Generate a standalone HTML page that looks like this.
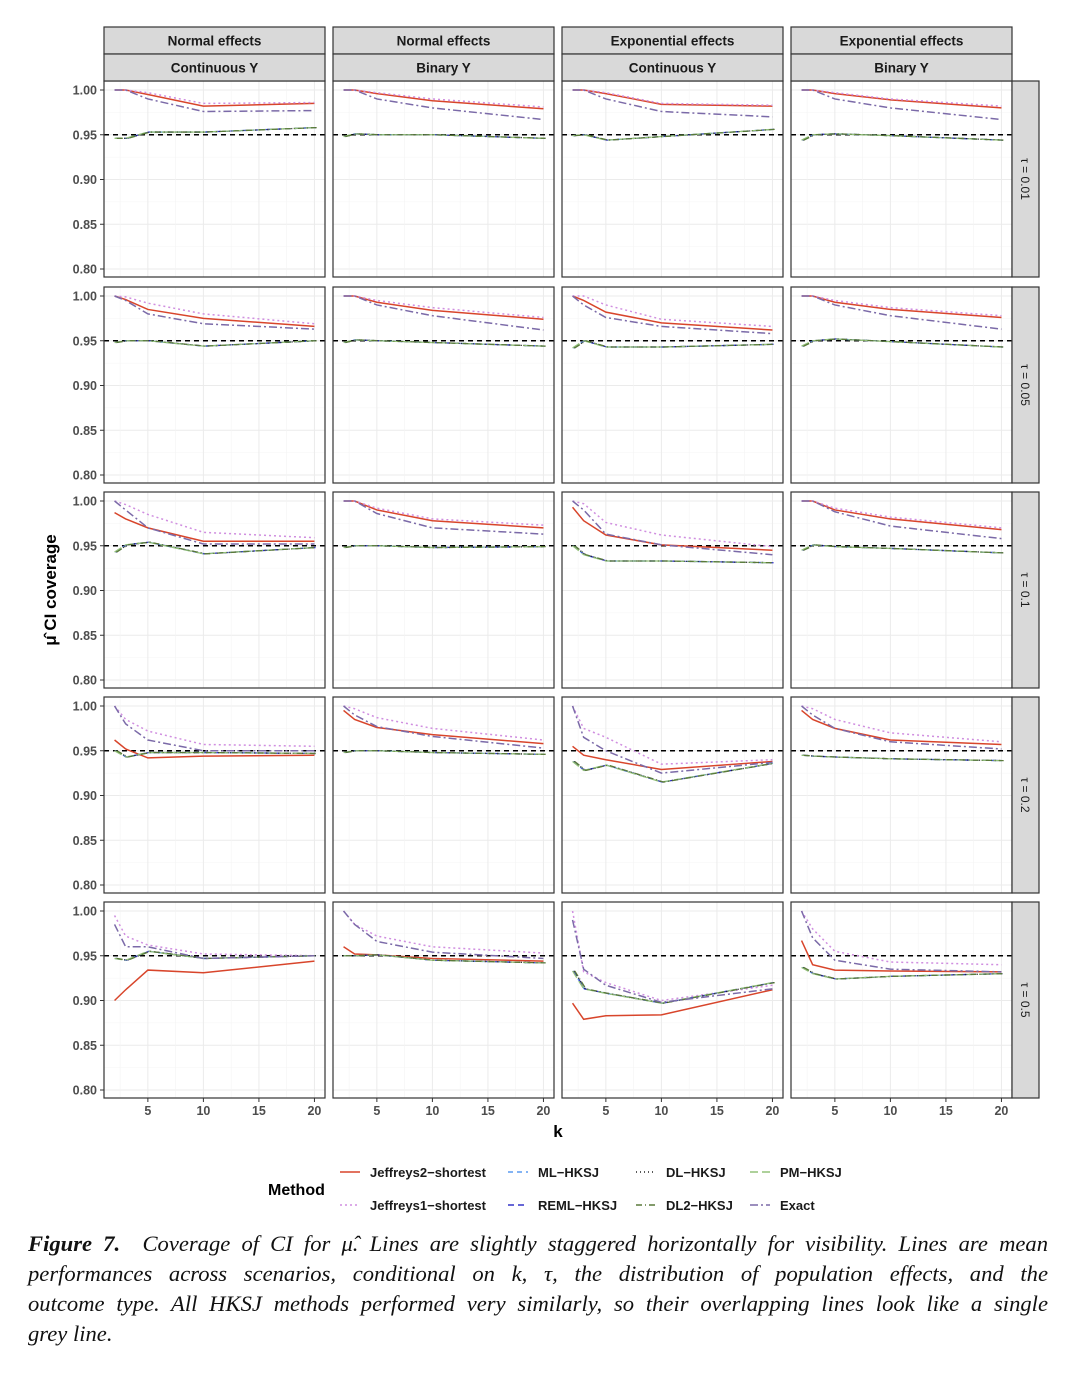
<!DOCTYPE html>
<html><head><meta charset="utf-8"><style>
body{margin:0;background:#fff;width:1080px;height:1389px;overflow:hidden;position:relative;font-family:"Liberation Sans",sans-serif}
#cap{position:absolute;left:28px;top:1229px;width:1020px;font-family:"Liberation Serif",serif;font-style:italic;font-size:22.6px;line-height:30px;color:#111}
#cap .j{text-align:justify;text-align-last:justify;white-space:nowrap}
#cap .l{text-align:left}
</style></head><body>
<svg id="chart" width="1080" height="1225" style="position:absolute;left:0;top:0" xmlns="http://www.w3.org/2000/svg"></svg>
<div id="cap"><div class="j"><b>Figure 7.</b>&nbsp; Coverage of CI for μ̂. Lines are slightly staggered horizontally for visibility. Lines are mean</div><div class="j">performances across scenarios, conditional on <i>k</i>, τ, the distribution of population effects, and the</div><div class="j">outcome type. All HKSJ methods performed very similarly, so their overlapping lines look like a single</div><div class="l">grey line.</div></div>
<script>
const kVals=[2,3,5,10,20];
const colTop1=["Normal effects","Normal effects","Exponential effects","Exponential effects"];
const colTop2=["Continuous Y","Binary Y","Continuous Y","Binary Y"];
const tauLabels=["τ = 0.01","τ = 0.05","τ = 0.1","τ = 0.2","τ = 0.5"];
const yTicks=[0.80,0.85,0.90,0.95,1.00];
const yTickLabels=["0.80","0.85","0.90","0.95","1.00"];
const xTicks=[5,10,15,20];
const jeff2=[
[[1,1,.995,.982,.985],[1,1,.996,.988,.979],[1,1,.996,.984,.982],[1,1,.996,.989,.98]],
[[1,.996,.985,.975,.966],[1,1,.993,.984,.974],[1,.995,.982,.97,.962],[1,1,.993,.985,.976]],
[[.987,.98,.97,.955,.955],[1,1,.99,.978,.97],[.993,.978,.962,.951,.945],[1,1,.99,.98,.968]],
[[.962,.952,.942,.944,.945],[.995,.985,.976,.968,.958],[.955,.945,.94,.929,.938],[.995,.985,.975,.962,.957]],
[[.9,.912,.934,.931,.944],[.96,.952,.951,.947,.944],[.897,.879,.883,.884,.912],[.967,.94,.934,.933,.932]]];
const jeff1=[
[[1,1,.997,.985,.986],[1,1,.997,.99,.981],[1,1,.997,.985,.983],[1,1,.997,.99,.982]],
[[1,.999,.992,.98,.969],[1,1,.995,.987,.976],[1,1,.99,.974,.966],[1,1,.995,.987,.978]],
[[1,.996,.985,.965,.959],[1,1,.992,.98,.973],[1,.997,.976,.962,.949],[1,1,.992,.982,.97]],
[[1,.985,.972,.957,.955],[1,.997,.987,.975,.962],[1,.975,.965,.935,.94],[1,.997,.985,.97,.96]],
[[.995,.972,.962,.952,.95],[1,.985,.972,.96,.953],[1,.932,.92,.9,.917],[1,.98,.955,.943,.94]]];
const exact=[
[[1,1,.99,.976,.977],[1,1,.99,.98,.967],[1,1,.99,.976,.97],[1,1,.99,.98,.967]],
[[1,.995,.98,.969,.963],[1,1,.99,.978,.962],[1,.99,.976,.966,.958],[1,1,.99,.978,.963]],
[[1,.99,.97,.952,.952],[1,1,.986,.97,.963],[1,.99,.963,.951,.94],[1,1,.988,.972,.958]],
[[1,.98,.962,.95,.95],[1,.99,.977,.966,.953],[1,.965,.95,.925,.937],[1,.99,.975,.96,.952]],
[[.985,.96,.96,.947,.95],[1,.985,.966,.954,.947],[.99,.935,.917,.898,.913],[1,.97,.945,.935,.932]]];
const hksj=[
[[.946,.946,.953,.953,.958],[.948,.951,.95,.95,.946],[.949,.95,.944,.948,.956],[.944,.95,.951,.949,.944]],
[[.948,.95,.95,.944,.95],[.948,.951,.95,.948,.944],[.942,.95,.943,.943,.946],[.944,.95,.952,.949,.943]],
[[.943,.951,.954,.941,.948],[.948,.95,.95,.948,.949],[.95,.94,.933,.933,.931],[.945,.951,.949,.947,.942]],
[[.95,.943,.948,.948,.947],[.948,.95,.95,.948,.946],[.938,.928,.934,.915,.936],[.945,.944,.943,.941,.939]],
[[.947,.945,.955,.947,.95],[.95,.95,.951,.945,.942],[.933,.913,.908,.897,.92],[.937,.93,.924,.927,.93]]];

const NS="http://www.w3.org/2000/svg";
const svg=document.getElementById('chart');
function mk(tag,attrs,parent){const e=document.createElementNS(NS,tag);for(const k in attrs)e.setAttribute(k,attrs[k]);(parent||svg).appendChild(e);return e;}
const colX=[104,333,562,791],pw=221,rowY=[81,287,492,697,902],ph=196;
const xDom=[1.05,20.95],yDom=[0.79106,1.01006];
function sx(c,k){return colX[c]+(k-xDom[0])/(xDom[1]-xDom[0])*pw;}
function sy(r,v){return rowY[r]+ph-(v-yDom[0])/(yDom[1]-yDom[0])*ph;}
const series=[
{name:'jeffreys2',data:jeff2,color:'#d8452b',dash:'',w:1.5,off:0},
{name:'jeffreys1',data:jeff1,color:'#d08ee0',dash:'2,3',w:1.5,off:0},
{name:'ml-hksj',data:hksj,color:'#5b9bf0',dash:'5,4',w:1.3,off:0.05},
{name:'reml-hksj',data:hksj,color:'#3535c8',dash:'6,4',w:1.3,off:0.1},
{name:'dl-hksj',data:hksj,color:'#222',dash:'1,3',w:1.3,off:0.15},
{name:'pm-hksj',data:hksj,color:'#94c27a',dash:'8,4',w:1.3,off:0},
{name:'dl2-hksj',data:hksj,color:'#5a7a3a',dash:'6,3,1,3',w:1.3,off:0.2},
{name:'exact',data:exact,color:'#7b6aa8',dash:'8,3,2,3',w:1.5,off:0}];

for(let r=0;r<5;r++){for(let c=0;c<4;c++){
  const g=mk('g',{});
  
  
  mk('rect',{x:colX[c],y:rowY[r],width:pw,height:ph,fill:'#fff'},g);
  for(let v=0.775;v<=1.01;v+=0.025){const y=sy(r,v);if(y<rowY[r]||y>rowY[r]+ph)continue;
    const major=Math.abs((v*100)%5)<0.01||Math.abs((v*100)%5-5)<0.01;
    mk('line',{x1:colX[c],x2:colX[c]+pw,y1:y,y2:y,stroke:major?'#ebebeb':'#f4f4f4','stroke-width':major?1:0.6},g);}
  for(let k=2.5;k<=20;k+=2.5){const x=sx(c,k);const major=k%5===0;
    mk('line',{x1:x,x2:x,y1:rowY[r],y2:rowY[r]+ph,stroke:major?'#ebebeb':'#f4f4f4','stroke-width':major?1:0.6},g);}
  const ref=mk('line',{x1:colX[c],x2:colX[c]+pw,y1:sy(r,0.95),y2:sy(r,0.95),stroke:'#000','stroke-width':1.4,'stroke-dasharray':'5,4'},g);
  
  
  series.forEach(s=>{
    const pts=kVals.map((k,i)=>sx(c,k+s.off)+','+sy(r,s.data[r][c][i])).join(' ');
    const p=mk('polyline',{points:pts,fill:'none',stroke:s.color,'stroke-width':s.w,'stroke-dasharray':s.dash},g);
    
    
  });
  mk('rect',{x:colX[c],y:rowY[r],width:pw,height:ph,fill:'none',stroke:'#333','stroke-width':1.2},g);
}
  const st=mk('rect',{x:1012,y:rowY[r],width:27,height:ph,fill:'#d9d9d9',stroke:'#333','stroke-width':1.2});
  
  
  const t=mk('text',{x:0,y:0,transform:`translate(1021,${rowY[r]+ph/2}) rotate(90)`,'text-anchor':'middle','font-size':12,fill:'#1a1a1a'});
  t.textContent=tauLabels[r];
  
  
  yTicks.forEach((v,i)=>{const y=sy(r,v);
    mk('line',{x1:100,x2:104,y1:y,y2:y,stroke:'#333'});
    const tl=mk('text',{x:97,y:y+4.5,'text-anchor':'end','font-size':12.5,'font-weight':'bold',fill:'#4d4d4d'});
    tl.textContent=yTickLabels[i];
    
    });
}
for(let c=0;c<4;c++){
  [[27,colTop1[c]],[54,colTop2[c]]].forEach(([y,txt])=>{
    const s=mk('rect',{x:colX[c],y:y,width:pw,height:27,fill:'#d9d9d9',stroke:'#333','stroke-width':1.2});
    
    
    const t=mk('text',{x:colX[c]+pw/2,y:y+18.5,'text-anchor':'middle','font-size':13.5,'font-weight':'bold',fill:'#1a1a1a'});
    t.textContent=txt;
    
    });
  xTicks.forEach(k=>{const x=sx(c,k);
    mk('line',{x1:x,x2:x,y1:1098,y2:1102,stroke:'#333'});
    const tl=mk('text',{x:x,y:1115,'text-anchor':'middle','font-size':12.5,'font-weight':'bold',fill:'#4d4d4d'});
    tl.textContent=String(k);
    
    });
}
const xt=mk('text',{x:558,y:1137,'text-anchor':'middle','font-size':17,'font-weight':'bold'});xt.textContent='k';


const yt=mk('text',{x:0,y:0,transform:'translate(56,590) rotate(-90)','text-anchor':'middle','font-size':17,'font-weight':'bold'});yt.textContent='μ̂  CI coverage';


const lt=mk('text',{x:268,y:1195,'font-size':16,'font-weight':'bold'});lt.textContent='Method';


const legendItems=[['Jeffreys2−shortest',0,0,0],['ML−HKSJ',2,1,0],['DL−HKSJ',4,2,0],['PM−HKSJ',5,3,0],['Jeffreys1−shortest',1,0,1],['REML−HKSJ',3,1,1],['DL2−HKSJ',6,2,1],['Exact',7,3,1]];
const lx=[340,508,636,750];
legendItems.forEach(([lab,si,ci,ri])=>{const s=series[si];const y=ri?1205:1172;
  const g=mk('g',{});
  
  
  mk('line',{x1:lx[ci],x2:lx[ci]+20,y1:y,y2:y,stroke:s.color,'stroke-width':1.4,'stroke-dasharray':s.dash},g);
  const t=mk('text',{x:lx[ci]+30,y:y+5,'font-size':13,'font-weight':'bold',fill:'#1a1a1a'},g);t.textContent=lab;});
</script>
</body></html>
